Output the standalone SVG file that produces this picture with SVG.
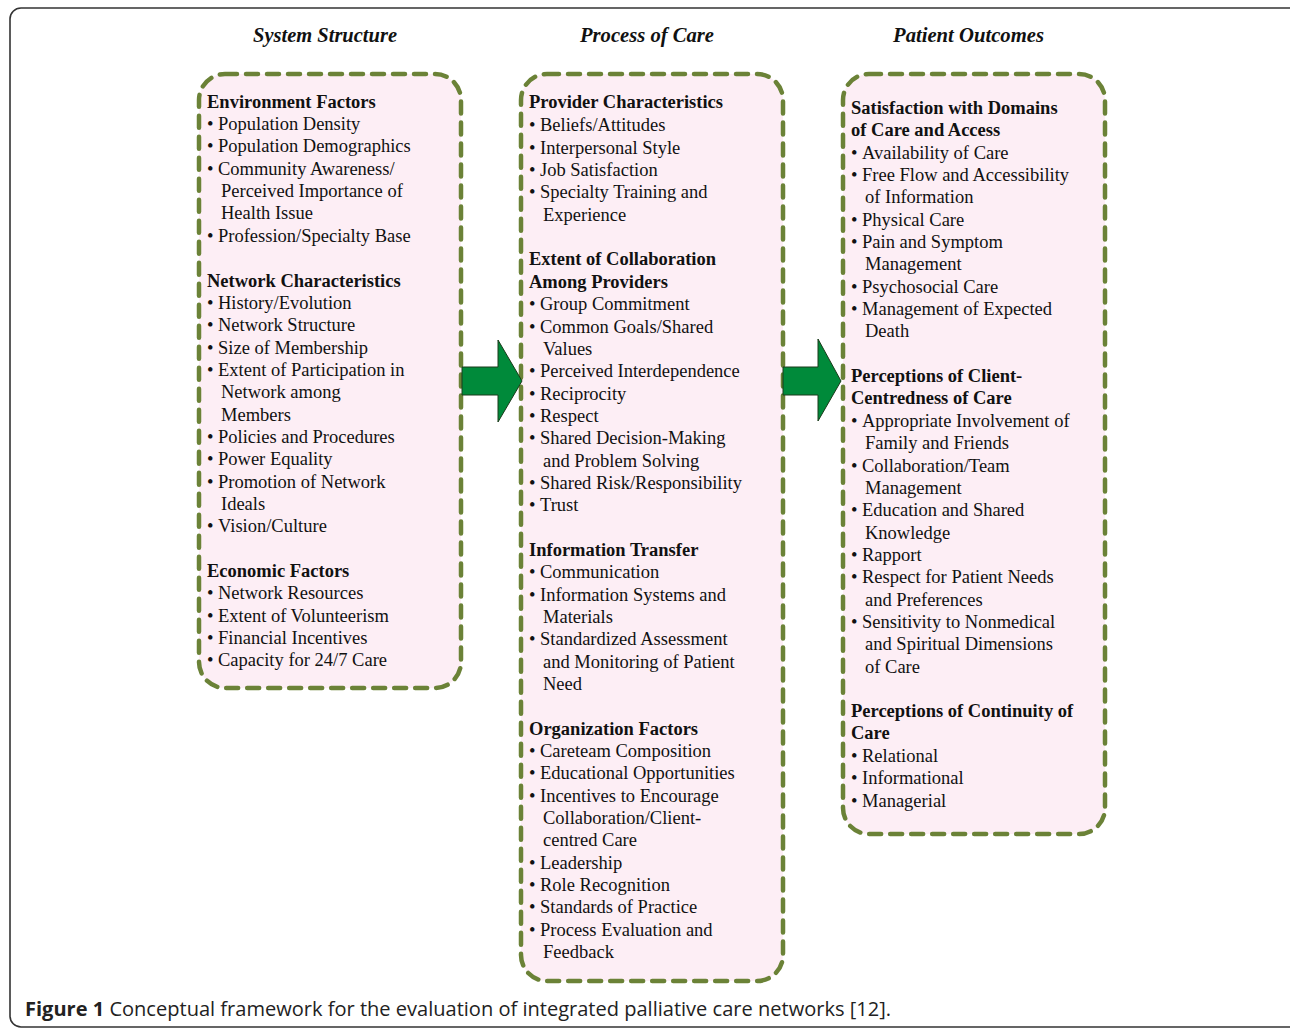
<svg xmlns="http://www.w3.org/2000/svg" width="1290" height="1028" viewBox="0 0 1290 1028">
<style>
.frame{fill:none;stroke:#333;stroke-width:1.6}
.box{fill:#fdeef5;stroke:#6b8237;stroke-width:4.5;stroke-dasharray:12 9;stroke-linecap:round}
.t{font-family:"Liberation Serif","Times New Roman",serif;font-size:18.5px;fill:#111}
.h{font-weight:bold}
.hdr{font-family:"Liberation Serif","Times New Roman",serif;font-size:21px;font-weight:bold;font-style:italic;fill:#111}
.arrow{fill:#008a3a;stroke:#1a3a1a;stroke-width:1}
.cap{font-family:"Open Sans","Liberation Sans",sans-serif;font-size:20px;fill:#222}
</style>
<rect class="frame" x="10" y="8" width="1290" height="1019" rx="11"/>
<g id="headers">
<text class="hdr" x="253" y="42" textLength="144" lengthAdjust="spacingAndGlyphs">System Structure</text>
<text class="hdr" x="580" y="42" textLength="134" lengthAdjust="spacingAndGlyphs">Process of Care</text>
<text class="hdr" x="893" y="42" textLength="151" lengthAdjust="spacingAndGlyphs">Patient Outcomes</text>
</g>
<g id="system-structure">
<rect class="box" x="199" y="74" width="262" height="614" rx="26"/>
<text class="t">
<tspan class="h" x="207" y="108">Environment Factors</tspan>
<tspan x="207" y="130">•</tspan><tspan x="218">Population Density</tspan>
<tspan x="207" y="152">•</tspan><tspan x="218">Population Demographics</tspan>
<tspan x="207" y="175">•</tspan><tspan x="218">Community Awareness/</tspan>
<tspan x="221" y="197">Perceived Importance of</tspan>
<tspan x="221" y="219">Health Issue</tspan>
<tspan x="207" y="242">•</tspan><tspan x="218">Profession/Specialty Base</tspan>
<tspan class="h" x="207" y="287">Network Characteristics</tspan>
<tspan x="207" y="309">•</tspan><tspan x="218">History/Evolution</tspan>
<tspan x="207" y="331">•</tspan><tspan x="218">Network Structure</tspan>
<tspan x="207" y="354">•</tspan><tspan x="218">Size of Membership</tspan>
<tspan x="207" y="376">•</tspan><tspan x="218">Extent of Participation in</tspan>
<tspan x="221" y="398">Network among</tspan>
<tspan x="221" y="421">Members</tspan>
<tspan x="207" y="443">•</tspan><tspan x="218">Policies and Procedures</tspan>
<tspan x="207" y="465">•</tspan><tspan x="218">Power Equality</tspan>
<tspan x="207" y="488">•</tspan><tspan x="218">Promotion of Network</tspan>
<tspan x="221" y="510">Ideals</tspan>
<tspan x="207" y="532">•</tspan><tspan x="218">Vision/Culture</tspan>
<tspan class="h" x="207" y="577">Economic Factors</tspan>
<tspan x="207" y="599">•</tspan><tspan x="218">Network Resources</tspan>
<tspan x="207" y="622">•</tspan><tspan x="218">Extent of Volunteerism</tspan>
<tspan x="207" y="644">•</tspan><tspan x="218">Financial Incentives</tspan>
<tspan x="207" y="666">•</tspan><tspan x="218">Capacity for 24/7 Care</tspan>
</text>
</g>
<g id="process-of-care">
<rect class="box" x="521" y="74" width="262" height="907" rx="26"/>
<text class="t">
<tspan class="h" x="529" y="108">Provider Characteristics</tspan>
<tspan x="529" y="131">•</tspan><tspan x="540">Beliefs/Attitudes</tspan>
<tspan x="529" y="154">•</tspan><tspan x="540">Interpersonal Style</tspan>
<tspan x="529" y="176">•</tspan><tspan x="540">Job Satisfaction</tspan>
<tspan x="529" y="198">•</tspan><tspan x="540">Specialty Training and</tspan>
<tspan x="543" y="221">Experience</tspan>
<tspan class="h" x="529" y="265">Extent of Collaboration</tspan>
<tspan class="h" x="529" y="288">Among Providers</tspan>
<tspan x="529" y="310">•</tspan><tspan x="540">Group Commitment</tspan>
<tspan x="529" y="333">•</tspan><tspan x="540">Common Goals/Shared</tspan>
<tspan x="543" y="355">Values</tspan>
<tspan x="529" y="377">•</tspan><tspan x="540">Perceived Interdependence</tspan>
<tspan x="529" y="400">•</tspan><tspan x="540">Reciprocity</tspan>
<tspan x="529" y="422">•</tspan><tspan x="540">Respect</tspan>
<tspan x="529" y="444">•</tspan><tspan x="540">Shared Decision-Making</tspan>
<tspan x="543" y="467">and Problem Solving</tspan>
<tspan x="529" y="489">•</tspan><tspan x="540">Shared Risk/Responsibility</tspan>
<tspan x="529" y="511">•</tspan><tspan x="540">Trust</tspan>
<tspan class="h" x="529" y="556">Information Transfer</tspan>
<tspan x="529" y="578">•</tspan><tspan x="540">Communication</tspan>
<tspan x="529" y="601">•</tspan><tspan x="540">Information Systems and</tspan>
<tspan x="543" y="623">Materials</tspan>
<tspan x="529" y="645">•</tspan><tspan x="540">Standardized Assessment</tspan>
<tspan x="543" y="668">and Monitoring of Patient</tspan>
<tspan x="543" y="690">Need</tspan>
<tspan class="h" x="529" y="735">Organization Factors</tspan>
<tspan x="529" y="757">•</tspan><tspan x="540">Careteam Composition</tspan>
<tspan x="529" y="779">•</tspan><tspan x="540">Educational Opportunities</tspan>
<tspan x="529" y="802">•</tspan><tspan x="540">Incentives to Encourage</tspan>
<tspan x="543" y="824">Collaboration/Client-</tspan>
<tspan x="543" y="846">centred Care</tspan>
<tspan x="529" y="869">•</tspan><tspan x="540">Leadership</tspan>
<tspan x="529" y="891">•</tspan><tspan x="540">Role Recognition</tspan>
<tspan x="529" y="913">•</tspan><tspan x="540">Standards of Practice</tspan>
<tspan x="529" y="936">•</tspan><tspan x="540">Process Evaluation and</tspan>
<tspan x="543" y="958">Feedback</tspan>
</text>
</g>
<g id="patient-outcomes">
<rect class="box" x="843" y="74" width="262" height="760" rx="26"/>
<text class="t">
<tspan class="h" x="851" y="114">Satisfaction with Domains</tspan>
<tspan class="h" x="851" y="136">of Care and Access</tspan>
<tspan x="851" y="159">•</tspan><tspan x="862">Availability of Care</tspan>
<tspan x="851" y="181">•</tspan><tspan x="862">Free Flow and Accessibility</tspan>
<tspan x="865" y="203">of Information</tspan>
<tspan x="851" y="226">•</tspan><tspan x="862">Physical Care</tspan>
<tspan x="851" y="248">•</tspan><tspan x="862">Pain and Symptom</tspan>
<tspan x="865" y="270">Management</tspan>
<tspan x="851" y="293">•</tspan><tspan x="862">Psychosocial Care</tspan>
<tspan x="851" y="315">•</tspan><tspan x="862">Management of Expected</tspan>
<tspan x="865" y="337">Death</tspan>
<tspan class="h" x="851" y="382">Perceptions of Client-</tspan>
<tspan class="h" x="851" y="404">Centredness of Care</tspan>
<tspan x="851" y="427">•</tspan><tspan x="862">Appropriate Involvement of</tspan>
<tspan x="865" y="449">Family and Friends</tspan>
<tspan x="851" y="472">•</tspan><tspan x="862">Collaboration/Team</tspan>
<tspan x="865" y="494">Management</tspan>
<tspan x="851" y="516">•</tspan><tspan x="862">Education and Shared</tspan>
<tspan x="865" y="539">Knowledge</tspan>
<tspan x="851" y="561">•</tspan><tspan x="862">Rapport</tspan>
<tspan x="851" y="583">•</tspan><tspan x="862">Respect for Patient Needs</tspan>
<tspan x="865" y="606">and Preferences</tspan>
<tspan x="851" y="628">•</tspan><tspan x="862">Sensitivity to Nonmedical</tspan>
<tspan x="865" y="650">and Spiritual Dimensions</tspan>
<tspan x="865" y="673">of Care</tspan>
<tspan class="h" x="851" y="717">Perceptions of Continuity of</tspan>
<tspan class="h" x="851" y="739">Care</tspan>
<tspan x="851" y="762">•</tspan><tspan x="862">Relational</tspan>
<tspan x="851" y="784">•</tspan><tspan x="862">Informational</tspan>
<tspan x="851" y="807">•</tspan><tspan x="862">Managerial</tspan>
</text>
</g>
<g id="connectors">
<polygon class="arrow" points="462,367 498,367 498,340 522,381 498,422 498,395 462,395"/>
<polygon class="arrow" points="783,367 818,367 818,339 841,381 818,421 818,395 783,395"/>
</g>
<text class="cap" x="25" y="1016" textLength="866" lengthAdjust="spacingAndGlyphs"><tspan font-weight="bold">Figure 1</tspan> Conceptual framework for the evaluation of integrated palliative care networks [12].</text>
</svg>
